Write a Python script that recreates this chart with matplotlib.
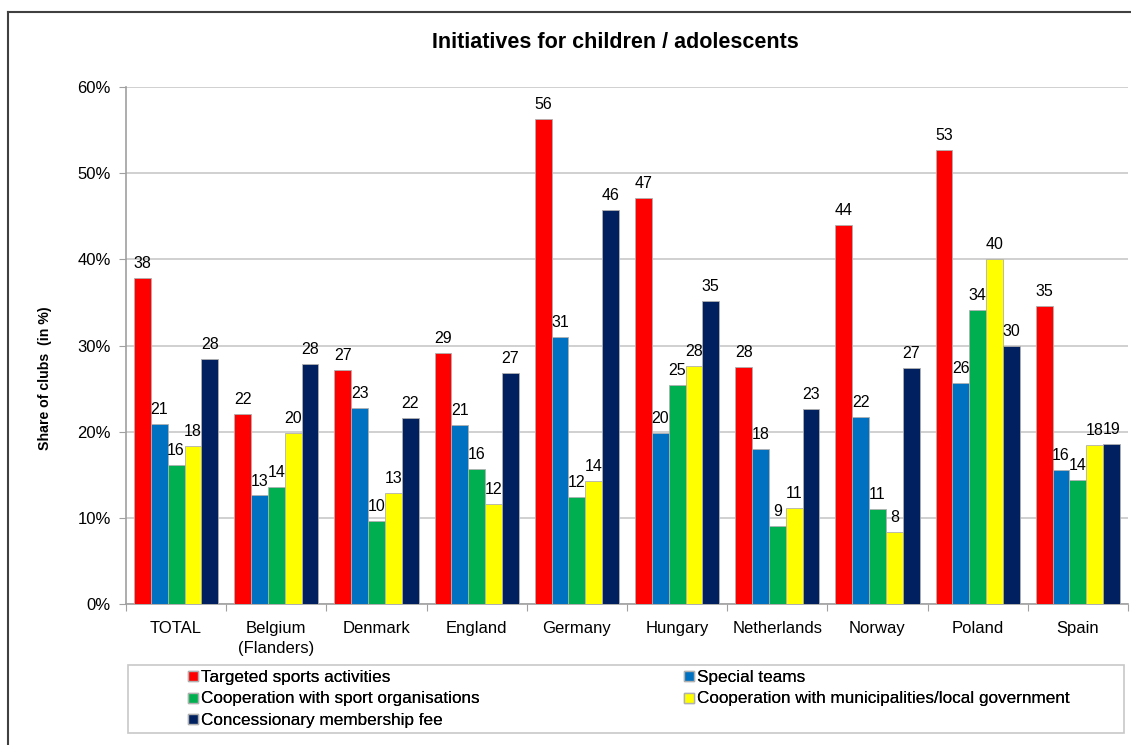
import numpy as np
import matplotlib.pyplot as plt
from matplotlib.lines import Line2D
from matplotlib.patches import Rectangle

plt.rcParams['font.family'] = ['Liberation Sans', 'DejaVu Sans']

countries = ['TOTAL', 'Belgium\n(Flanders)', 'Denmark', 'England', 'Germany',
             'Hungary', 'Netherlands', 'Norway', 'Poland', 'Spain']

targeted     = [37.8, 22.1, 27.2, 29.1, 56.3, 47.1, 27.5, 44.0, 52.7, 34.6]
special      = [20.9, 12.6, 22.8, 20.8, 31.0, 19.8, 18.0, 21.7, 25.7, 15.6]
coop_sport   = [16.1, 13.6, 9.6, 15.7, 12.4, 25.4, 9.1, 11.0, 34.1, 14.4]
coop_munic   = [18.3, 19.9, 12.9, 11.6, 14.3, 27.6, 11.1, 8.4, 40.0, 18.5]
concession   = [28.4, 27.9, 21.6, 26.8, 45.7, 35.2, 22.6, 27.4, 29.9, 18.6]

series = [targeted, special, coop_sport, coop_munic, concession]
names = ['Targeted sports activities', 'Special teams',
         'Cooperation with sport organisations',
         'Cooperation with municipalities/local government',
         'Concessionary membership fee']
colors = ['#ff0000', '#0070c0', '#00b050', '#ffff00', '#002060']

fig = plt.figure(figsize=(11.31, 7.45), dpi=100)
ax = fig.add_axes([126/1131, 141/745, 1002/1131, 517/745])

x = np.arange(len(countries))
w = 0.168
offsets = (np.arange(5) - 2) * w
for vals, off, c in zip(series, offsets, colors):
    ax.bar(x + 0.5 + off, vals, width=w, color=c, edgecolor='#b0b0b0',
           linewidth=0.6, zorder=3)
    for xi, v in zip(x, vals):
        ax.text(xi + 0.5 + off, v + 0.8, '%d' % round(v), ha='center',
                va='bottom', fontsize=11.5, color='#000000', zorder=4)

ax.set_xlim(0, 10)
ax.set_ylim(0, 60)
ax.set_yticks(np.arange(0, 61, 10))
ax.set_yticklabels(['%d%%' % t for t in range(0, 61, 10)], fontsize=12)
ax.yaxis.grid(True, color='#c8c8c8', linewidth=1.2, zorder=0)
ax.set_xticks(np.arange(0, 11))
ax.set_xticklabels([])
ax.set_xticks(x + 0.5, minor=True)
ax.set_xticklabels(countries, minor=True, fontsize=12, linespacing=1.45)
ax.tick_params(axis='x', which='minor', length=0, pad=12)
ax.tick_params(axis='x', which='major', length=5, color='#a0a0a0')
ax.tick_params(axis='y', length=5, color='#a0a0a0', pad=6)

for s in ['top', 'right']:
    ax.spines[s].set_visible(False)
for s in ['left', 'bottom']:
    ax.spines[s].set_color('#a0a0a0')
    ax.spines[s].set_linewidth(1.2)

fig.text(45/1131, 1 - 378/745, 'Share of clubs  (in %)', rotation=90,
         ha='center', va='center', fontsize=10.2, fontweight='bold')
fig.text(615/1131, 1 - 43/745, 'Initiatives for children / adolescents',
         ha='center', va='center', fontsize=15.5, fontweight='bold')

# legend frame + two columns of entries
fig.add_artist(Rectangle((128/1131, 12/745), 996/1131, 68/745, transform=fig.transFigure,
                         facecolor='white', edgecolor='#c8c8c8', linewidth=1.2))

def make_handle(c):
    return Line2D([], [], marker='s', linestyle='none', markersize=7.5,
                  markerfacecolor=c, markeredgecolor='#b0b0b0')

cols = [[0, 2, 4], [1, 3]]
xs = [186/1131, 682/1131]
for idx, xl in zip(cols, xs):
    leg = fig.legend([make_handle(colors[i]) for i in idx], [names[i] for i in idx],
                     loc='upper left', bbox_to_anchor=(xl, 1 - 670/745),
                     fontsize=12.3, frameon=False, handletextpad=0.1,
                     handlelength=0.8, labelspacing=0.38, borderpad=0,
                     borderaxespad=0)
    fig.add_artist(leg)

# outer frame lines (left and top)
fig.add_artist(Line2D([8/1131, 8/1131], [0, 1 - 12/745], color='#404040', lw=1.5,
                      transform=fig.transFigure))
fig.add_artist(Line2D([8/1131, 1], [1 - 12/745, 1 - 12/745], color='#404040', lw=1.5,
                      transform=fig.transFigure))

fig.savefig('out.png', dpi=100)
